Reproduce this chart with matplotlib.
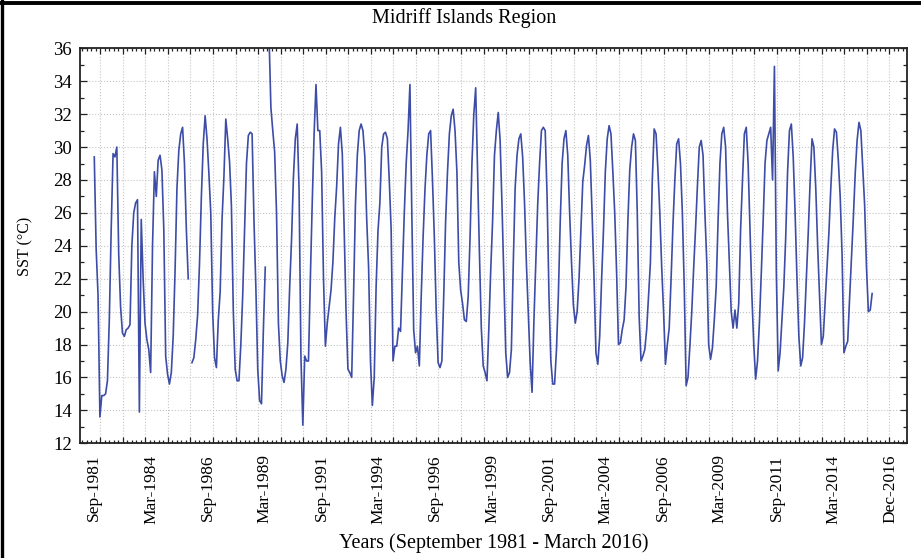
import numpy as np
import matplotlib.pyplot as plt
from matplotlib.ticker import FixedLocator
from matplotlib.lines import Line2D

nan = np.nan

# SST mensual (°C), región de las Grandes Islas, sep-1981 a mar-2016
sst_1981 = [29.4, 23.8, 21.0, 13.6]  # sep-dic
sst_1982 = [14.9, 14.9, 15.0, 15.8, 19.5, 25.0, 29.6, 29.4, 30.0, 23.5, 20.3, 18.7]
sst_1983 = [18.5, 18.9, 19.0, 19.2, 24.0, 26.0, 26.6, 26.8, 13.9, 25.6, 22.0, 19.3]
sst_1984 = [18.3, 17.7, 16.3, 24.0, 28.5, 27.0, 29.2, 29.5, 28.6, 25.0, 17.3, 16.2]
sst_1985 = [15.6, 16.3, 18.5, 22.5, 27.5, 29.8, 30.8, 31.2, 29.0, 25.0, 22.0, nan]
sst_1986 = [16.9, 17.2, 18.3, 19.8, 22.9, 27.0, 30.2, 31.9, 30.5, 28.4, 26.0, 20.0]
sst_1987 = [17.2, 16.6, 19.5, 21.2, 25.6, 28.2, 31.7, 30.5, 29.1, 26.4, 20.0, 16.5]
sst_1988 = [15.8, 15.8, 18.0, 21.0, 25.0, 29.0, 30.7, 30.9, 30.8, 25.5, 21.5, 16.5]
sst_1989 = [14.6, 14.4, 18.9, 22.7, nan, 36.8, 32.4, 31.0, 29.7, 26.0, 19.3, 17.0]
sst_1990 = [16.1, 15.7, 16.5, 18.1, 21.5, 24.4, 28.2, 30.5, 31.4, 27.4, 17.2, 13.1]
sst_1991 = [17.3, 17.0, 17.0, 22.0, 26.6, 30.8, 33.8, 31.0, 31.0, 28.5, 22.0, 17.9]
sst_1992 = [19.3, 20.3, 21.3, 23.0, 25.7, 27.6, 30.2, 31.2, 29.6, 25.0, 20.0, 16.5]
sst_1993 = [16.3, 16.0, 21.0, 26.5, 29.5, 31.0, 31.4, 31.0, 29.4, 25.6, 22.7, 17.0]
sst_1994 = [14.3, 16.0, 21.5, 24.9, 26.6, 30.0, 30.8, 30.9, 30.5, 28.0, 25.0, 17.0]
sst_1995 = [17.9, 17.9, 19.0, 18.8, 22.5, 26.0, 29.0, 31.0, 33.8, 26.0, 18.9, 17.5]
sst_1996 = [17.9, 16.7, 20.9, 24.5, 27.4, 29.5, 30.8, 31.0, 28.0, 24.5, 20.0, 16.9]
sst_1997 = [16.6, 17.0, 21.0, 25.5, 28.5, 30.8, 31.9, 32.3, 31.0, 28.5, 23.0, 21.3]
sst_1998 = [20.5, 19.5, 19.4, 20.9, 24.5, 29.0, 32.0, 33.6, 28.5, 23.5, 19.0, 16.7]
sst_1999 = [16.3, 15.8, 19.0, 22.5, 25.5, 29.5, 31.0, 32.1, 30.4, 26.5, 22.0, 17.5]
sst_2000 = [16.0, 16.3, 17.7, 22.9, 27.5, 29.5, 30.5, 30.8, 29.4, 26.6, 22.9, 19.9]
sst_2001 = [16.9, 15.1, 19.5, 23.0, 26.5, 29.0, 31.0, 31.2, 31.0, 27.0, 21.0, 17.0]
sst_2002 = [15.6, 15.6, 17.7, 21.0, 25.5, 29.0, 30.5, 31.0, 29.5, 26.0, 23.0, 20.4]
sst_2003 = [19.3, 20.0, 22.0, 25.0, 27.9, 28.9, 30.1, 30.7, 29.2, 25.8, 22.0, 17.5]
sst_2004 = [16.8, 18.5, 21.9, 24.9, 28.5, 30.5, 31.3, 30.8, 28.5, 26.0, 22.4, 18.0]
sst_2005 = [18.1, 18.9, 19.5, 21.5, 25.5, 28.6, 30.0, 30.8, 30.4, 26.0, 19.7, 17.0]
sst_2006 = [17.3, 17.7, 18.9, 21.0, 23.0, 28.0, 31.1, 30.8, 28.6, 26.0, 22.7, 20.0]
sst_2007 = [16.8, 18.0, 19.0, 22.0, 25.3, 28.0, 30.2, 30.5, 29.0, 26.0, 21.5, 15.5]
sst_2008 = [16.0, 17.9, 20.0, 22.6, 25.0, 27.6, 30.0, 30.4, 29.5, 26.0, 23.0, 18.0]
sst_2009 = [17.1, 17.8, 19.5, 21.5, 25.5, 29.0, 30.8, 31.2, 30.0, 26.0, 23.0, 20.0]
sst_2010 = [19.0, 20.1, 19.0, 20.5, 25.0, 28.0, 30.8, 31.2, 29.0, 25.0, 21.0, 18.0]
sst_2011 = [15.9, 17.0, 19.3, 22.3, 25.5, 29.0, 30.4, 30.8, 31.2, 28.0, 34.9, 22.5]
sst_2012 = [16.4, 17.5, 19.5, 21.5, 24.5, 28.5, 31.0, 31.4, 29.4, 26.0, 22.0, 18.5]
sst_2013 = [16.7, 17.2, 19.3, 22.0, 24.8, 27.9, 30.5, 30.0, 27.5, 24.0, 21.0, 18.0]
sst_2014 = [18.5, 20.6, 22.7, 24.8, 27.5, 29.8, 31.1, 30.9, 29.2, 27.0, 23.5, 17.5]
sst_2015 = [17.9, 18.2, 20.8, 23.2, 25.7, 28.4, 30.4, 31.5, 31.0, 28.8, 26.5, 22.7]
sst_2016 = [20.0, 20.1, 21.1]  # ene-mar

sst = np.array(sst_1981 + sst_1982 + sst_1983 + sst_1984 + sst_1985 + sst_1986
               + sst_1987 + sst_1988 + sst_1989 + sst_1990 + sst_1991 + sst_1992
               + sst_1993 + sst_1994 + sst_1995 + sst_1996 + sst_1997 + sst_1998
               + sst_1999 + sst_2000 + sst_2001 + sst_2002 + sst_2003 + sst_2004
               + sst_2005 + sst_2006 + sst_2007 + sst_2008 + sst_2009 + sst_2010
               + sst_2011 + sst_2012 + sst_2013 + sst_2014 + sst_2015 + sst_2016)
casos = np.arange(len(sst))  # número de mes desde sep-1981

etiquetas = ['Sep-1981', 'Mar-1984', 'Sep-1986', 'Mar-1989', 'Sep-1991',
             'Mar-1994', 'Sep-1996', 'Mar-1999', 'Sep-2001', 'Mar-2004',
             'Sep-2006', 'Mar-2009', 'Sep-2011', 'Mar-2014', 'Dec-2016']

plt.rcParams['font.family'] = 'Liberation Serif'
fig = plt.figure(figsize=(9.21, 5.58), dpi=100)
ax = fig.add_axes([80 / 921, 1 - 443.3 / 558, 826.7 / 921, 395 / 558])

ax.plot(casos, sst, color='#3d4ca6', lw=1.2)

ax.set_xlim(-7.6, 432.4)
ax.set_ylim(12, 36)
ax.set_yticks(np.arange(12, 37, 2))
ax.yaxis.set_minor_locator(FixedLocator(np.arange(12, 37, 1)))
ax.set_xticks(np.arange(3.2, 432, 12))
ax.xaxis.set_minor_locator(FixedLocator(np.arange(3.2 - 12, 433, 2.4)))
ax.tick_params(axis='both', which='both', direction='in', top=True, right=True,
               color='#222222', width=0.9)
ax.tick_params(axis='x', which='major', length=4, labelbottom=False)
ax.tick_params(axis='x', which='minor', length=2.2)
ax.tick_params(axis='y', which='major', length=5, labelsize=13.5, pad=6)
ax.tick_params(axis='y', which='minor', length=3)
ax.grid(True, which='major', color='#c4c4c4', ls=':', lw=0.8)
for lado in ax.spines.values():
    lado.set_linewidth(1.3)
    lado.set_color('#222222')

# Etiquetas de fecha en su propio eje, independientes de la rejilla
sec = ax.secondary_xaxis('bottom')
sec.set_xticks(np.linspace(0, 423.6, len(etiquetas)), etiquetas, rotation=90)
sec.tick_params(length=0, pad=8, labelsize=12.5)
sec.spines['bottom'].set_visible(False)

fig.text(464 / 921, 1 - 18 / 558, 'Midriff Islands Region', ha='center',
         va='center', fontsize=14.5)
fig.text(494 / 921, 1 - 543 / 558, 'Years (September 1981 - March 2016)',
         ha='center', va='center', fontsize=14.5)
fig.text(25 / 921, 1 - 246 / 558, 'SST (°C)', ha='center', va='center',
         rotation=90, fontsize=11.5)

# Marco del recuadro
fig.add_artist(Line2D([1.5 / 921, 1.5 / 921], [0, 1], transform=fig.transFigure,
                      color='black', lw=2.4))
fig.add_artist(Line2D([0, 1], [1 - 2.5 / 558, 1 - 2.5 / 558],
                      transform=fig.transFigure, color='black', lw=2.8))

fig.savefig('out.png', dpi=100)
